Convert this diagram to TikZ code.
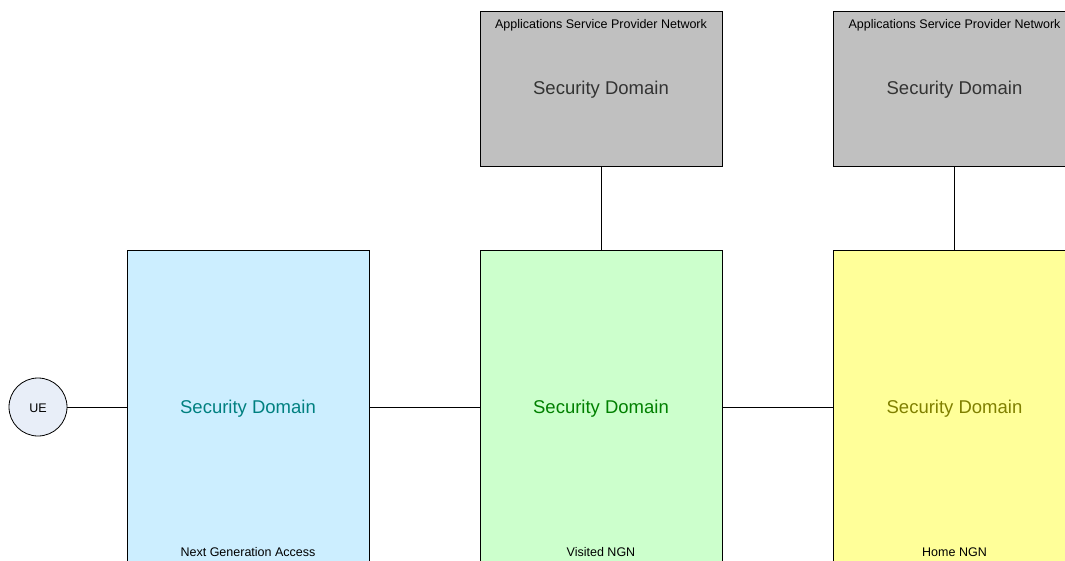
\documentclass[tikz,border=0pt]{standalone}
\usepackage{fontspec}
\setmainfont{Liberation Sans}
\definecolor{accfill}{HTML}{CCEEFF}
\definecolor{visfill}{HTML}{CCFFCC}
\definecolor{homefill}{HTML}{FFFF99}
\definecolor{aspfill}{HTML}{C0C0C0}
\definecolor{uefill}{HTML}{E8EEF8}
\definecolor{acctext}{HTML}{008080}
\definecolor{vistext}{HTML}{008000}
\definecolor{hometext}{HTML}{808000}
\definecolor{asptext}{HTML}{333333}
\begin{document}
\begin{tikzpicture}[x=1pt,y=-1pt,
  secbox/.style={draw=black, line width=0.8pt, rectangle, minimum width=242pt, inner sep=0pt},
  bigtext/.style={font=\fontsize{18.5}{22}\selectfont},
  smalltext/.style={font=\fontsize{12.5}{15}\selectfont},
  link/.style={draw=black, line width=0.8pt}]
\useasboundingbox (0,0) rectangle (1065,561);
\clip (0,0) rectangle (1065,561);
% bottom domains
\node[secbox, fill=accfill, minimum height=314pt] (nga) at (248,407) {};
\node[secbox, fill=visfill, minimum height=314pt] (vngn) at (601,407) {};
\node[secbox, fill=homefill, minimum height=314pt] (hngn) at (954.5,407) {};
% top domains
\node[secbox, fill=aspfill, minimum height=155pt] (asp1) at (601,88.5) {};
\node[secbox, fill=aspfill, minimum height=155pt] (asp2) at (954.5,88.5) {};
% UE
\node[draw=black, line width=0.8pt, circle, fill=uefill, minimum size=58pt, inner sep=0pt] (ue) at (38,407) {};
\node[smalltext] (uet) at (38,408.5) {UE};
% texts
\node[bigtext, text=acctext] (t1) at (248,409) {Security Domain};
\node[bigtext, text=vistext] (t2) at (601,409) {Security Domain};
\node[bigtext, text=hometext] (t3) at (954.5,409) {Security Domain};
\node[bigtext, text=asptext] (t4) at (601,90) {Security Domain};
\node[bigtext, text=asptext] (t5) at (954.5,90) {Security Domain};
\node[smalltext] (l4) at (601,25) {Applications Service Provider Network};
\node[smalltext] (l5) at (954.5,25) {Applications Service Provider Network};
\node[smalltext] (l1) at (248,552) {Next Generation Access};
\node[smalltext] (l2) at (601,552) {Visited NGN};
\node[smalltext] (l3) at (954.5,552) {Home NGN};
% connectors
\draw[link] (ue.east) -- (nga.west |- ue.east);
\draw[link] (nga.east) -- (vngn.west);
\draw[link] (vngn.east) -- (hngn.west);
\draw[link] (asp1.south) -- (vngn.north);
\draw[link] (asp2.south) -- (hngn.north);
\end{tikzpicture}
\end{document}
